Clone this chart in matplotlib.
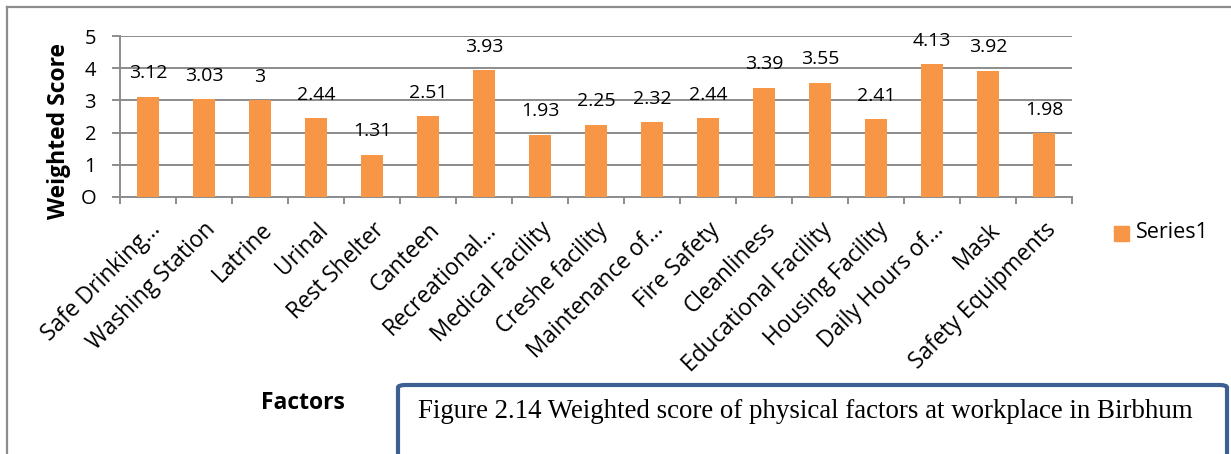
import matplotlib
matplotlib.use("Agg")
import matplotlib.pyplot as plt
from matplotlib.patches import Rectangle, FancyBboxPatch
import numpy as np

categories = ["Safe Drinking…", "Washing Station", "Latrine", "Urinal", "Rest Shelter",
              "Canteen", "Recreational…", "Medical Facility", "Creshe facility",
              "Maintenance of…", "Fire Safety", "Cleanliness", "Educational Facility",
              "Housing Facility", "Daily Hours of…", "Mask", "Safety Equipments"]
values = [3.12, 3.03, 3, 2.44, 1.31, 2.51, 3.93, 1.93, 2.25, 2.32, 2.44, 3.39, 3.55,
          2.41, 4.13, 3.92, 1.98]
value_labels = ["3.12", "3.03", "3", "2.44", "1.31", "2.51", "3.93", "1.93", "2.25",
                "2.32", "2.44", "3.39", "3.55", "2.41", "4.13", "3.92", "1.98"]
yticks = [0, 1, 2, 3, 4, 5]
ytick_labels = ["O", "1", "2", "3", "4", "5"]
series_name = "Series1"

font = "Open Sans"
W, H = 1231, 454
fig = plt.figure(figsize=(W / 100, H / 100), dpi=100)
PX = 72 / 100  # points per pixel

# outer chart frame
fig.add_artist(plt.Line2D([7 / W, 7 / W], [0, 1 - 7 / H], color="#8c8c8c", lw=1.6,
                          transform=fig.transFigure))
fig.add_artist(plt.Line2D([7 / W, 1], [1 - 7 / H, 1 - 7 / H], color="#8c8c8c", lw=1.6,
                          transform=fig.transFigure))

left, right = 120 / W, 1072 / W
bottom, top = 1 - 197 / H, 1 - 36 / H
ax = fig.add_axes([left, bottom, right - left, top - bottom])

n = len(categories)
x = np.arange(n)
ax.bar(x, values, width=0.405, color="#F79646", zorder=3, label=series_name)
ax.set_xlim(-0.5, n - 0.5)
ax.set_ylim(0, 5)

for xi, v, lab in zip(x, values, value_labels):
    ax.annotate(lab, xy=(xi, v), xytext=(0, 23.5 * PX), textcoords="offset points",
                ha="center", va="center", fontsize=14, family=font, color="black",
                annotation_clip=False)

ax.set_yticks(yticks)
ax.set_yticklabels(ytick_labels, fontsize=14.5, family=font)
ax.yaxis.grid(True, color="#8c8c8c", lw=1.4, zorder=0)
ax.set_xticks(np.arange(-0.5, n, 1.0))
ax.set_xticklabels([])
ax.tick_params(axis="x", length=7 * PX, color="#8c8c8c", width=1.4, direction="out")
ax.tick_params(axis="y", length=8 * PX, color="#8c8c8c", width=1.4, direction="out",
               pad=16 * PX)
for s in ["top", "right"]:
    ax.spines[s].set_visible(False)
for s in ["left", "bottom"]:
    ax.spines[s].set_color("#8c8c8c")
    ax.spines[s].set_linewidth(1.4)

for xi, lab in zip(x, categories):
    ax.annotate(lab, xy=(xi, 0), xycoords=("data", "axes fraction"),
                xytext=(0, -15), textcoords="offset points",
                rotation=45, ha="right", va="top", fontsize=16.3, family=font,
                rotation_mode="anchor")

fig.text(59 / W, 1 - 131 / H, "Weighted Score", rotation=90, ha="center", va="center",
         fontsize=16.5, fontweight="bold", family=font)
fig.text(303 / W, 1 - 403 / H, "Factors", ha="center", va="center",
         fontsize=16.5, fontweight="bold", family=font)

# legend
fig.add_artist(Rectangle((1114 / W, 1 - 241 / H), 15 / W, 15 / H, color="#F79646",
                         transform=fig.transFigure))
fig.text(1136 / W, 1 - 233 / H, series_name, ha="left", va="center", fontsize=15.5,
         family=font)

# caption box
fig.add_artist(FancyBboxPatch((398 / W, -0.05), (1227 - 398) / W, 0.05 + 1 - 385 / H,
                              boxstyle="round,pad=0,rounding_size=0.006",
                              transform=fig.transFigure, facecolor="white",
                              edgecolor="#3B6091", lw=3))
fig.text(418 / W, 1 - 412 / H, "Figure 2.14 Weighted score of physical factors at workplace in Birbhum",
         ha="left", va="center", fontsize=19.4, family="Liberation Serif")

fig.savefig("out.png", dpi=100)
